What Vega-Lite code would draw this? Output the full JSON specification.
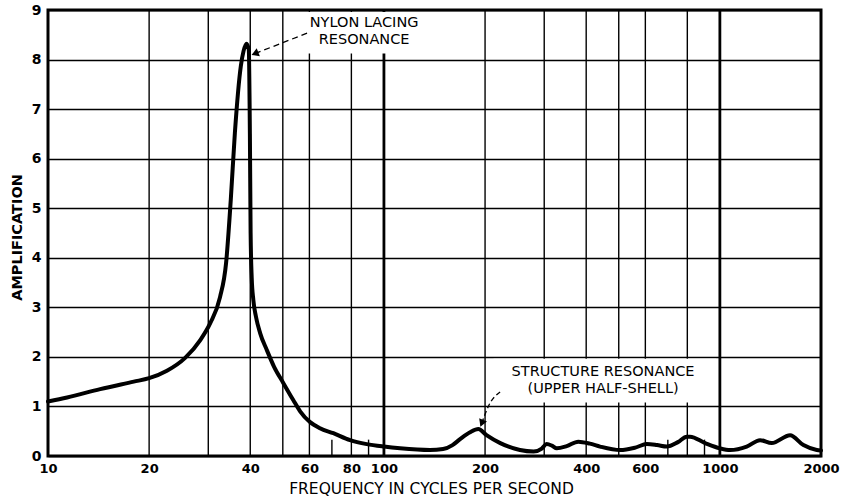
{
  "$schema": "https://vega.github.io/schema/vega-lite/v6.json",
  "width": 773,
  "height": 446,
  "autosize": {"type": "none"},
  "padding": {"left": 48, "top": 10, "right": 24, "bottom": 42},
  "background": "white",
  "config": {"view": {"stroke": "black", "strokeWidth": 3}, "font": "DejaVu Sans"},
  "datasets": {
    "curve": [
      {"f": 10, "amp": 1.10}, {"f": 11.4, "amp": 1.18}, {"f": 14.3, "amp": 1.35}, {"f": 18, "amp": 1.50},
      {"f": 20, "amp": 1.57}, {"f": 22.6, "amp": 1.72}, {"f": 25.6, "amp": 1.98}, {"f": 28.4, "amp": 2.34},
      {"f": 30.4, "amp": 2.68}, {"f": 32.5, "amp": 3.2}, {"f": 33.9, "amp": 3.9}, {"f": 35.0, "amp": 5.17},
      {"f": 36.0, "amp": 6.52}, {"f": 37.5, "amp": 7.87}, {"f": 38.2, "amp": 8.17}, {"f": 39.0, "amp": 8.32},
      {"f": 39.6, "amp": 8.2}, {"f": 39.9, "amp": 6.5}, {"f": 40.1, "amp": 4.5}, {"f": 40.4, "amp": 3.6},
      {"f": 40.85, "amp": 3.15}, {"f": 41.6, "amp": 2.81}, {"f": 42.8, "amp": 2.48}, {"f": 44.8, "amp": 2.14},
      {"f": 47.1, "amp": 1.80}, {"f": 50.2, "amp": 1.47}, {"f": 53.7, "amp": 1.13}, {"f": 56.3, "amp": 0.90},
      {"f": 64.5, "amp": 0.56}, {"f": 70.7, "amp": 0.46}, {"f": 79.3, "amp": 0.32}, {"f": 88.9, "amp": 0.24},
      {"f": 100, "amp": 0.19}, {"f": 111.7, "amp": 0.155}, {"f": 137, "amp": 0.12}, {"f": 150, "amp": 0.14},
      {"f": 160, "amp": 0.22}, {"f": 168.5, "amp": 0.34}, {"f": 180.5, "amp": 0.48}, {"f": 191, "amp": 0.545},
      {"f": 202, "amp": 0.42}, {"f": 222, "amp": 0.26}, {"f": 254, "amp": 0.12}, {"f": 279, "amp": 0.09},
      {"f": 295, "amp": 0.15}, {"f": 305, "amp": 0.24}, {"f": 316, "amp": 0.21}, {"f": 327, "amp": 0.155},
      {"f": 350, "amp": 0.2}, {"f": 379, "amp": 0.29}, {"f": 410, "amp": 0.25}, {"f": 440, "amp": 0.19},
      {"f": 505, "amp": 0.12}, {"f": 560, "amp": 0.17}, {"f": 606, "amp": 0.24}, {"f": 650, "amp": 0.22},
      {"f": 695, "amp": 0.19}, {"f": 750, "amp": 0.28}, {"f": 797, "amp": 0.39}, {"f": 815, "amp": 0.39},
      {"f": 904, "amp": 0.26}, {"f": 1000, "amp": 0.155}, {"f": 1073, "amp": 0.12}, {"f": 1202, "amp": 0.19},
      {"f": 1317, "amp": 0.32}, {"f": 1427, "amp": 0.26}, {"f": 1618, "amp": 0.42}, {"f": 1773, "amp": 0.22},
      {"f": 1943, "amp": 0.12}, {"f": 2000, "amp": 0.11}
    ],
    "thinGrid": [
      {"f": 20}, {"f": 30}, {"f": 40}, {"f": 50}, {"f": 60}, {"f": 80},
      {"f": 200}, {"f": 300}, {"f": 400}, {"f": 500}, {"f": 600}, {"f": 800}
    ],
    "thickGrid": [{"f": 100}, {"f": 1000}],
    "stubs": [{"f": 70}, {"f": 90}, {"f": 700}, {"f": 900}],
    "labels": [
      {"f": 87.3, "amp": 8.74, "text": "NYLON LACING"},
      {"f": 87.3, "amp": 8.39, "text": "RESONANCE"},
      {"f": 449, "amp": 1.70, "text": "STRUCTURE RESONANCE"},
      {"f": 449, "amp": 1.35, "text": "(UPPER HALF-SHELL)"}
    ],
    "arrow1": [{"f": 59.4, "amp": 8.54}, {"f": 41.3, "amp": 8.12}],
    "arrow2": [{"f": 221.7, "amp": 1.29}, {"f": 205.5, "amp": 1.03}, {"f": 195.5, "amp": 0.66}],
    "head1": [{"f": 41.3, "amp": 8.12}],
    "head2": [{"f": 195.5, "amp": 0.66}]
  },
  "layer": [
    {
      "data": {"name": "curve"},
      "mark": {"type": "line", "opacity": 0},
      "encoding": {
        "x": {
          "field": "f", "type": "quantitative",
          "scale": {"type": "log", "domain": [10, 2000], "nice": false},
          "axis": {
            "values": [10, 20, 40, 60, 80, 100, 200, 400, 600, 1000, 2000],
            "format": "d", "labelOverlap": false, "labelBound": false,
            "grid": false, "ticks": false, "domain": false, "labelFlush": false,
            "labelFont": "DejaVu Sans", "labelFontWeight": "bold", "labelFontSize": 13,
            "labelColor": "black", "labelPadding": 6,
            "title": "FREQUENCY IN CYCLES PER SECOND",
            "titleFont": "DejaVu Sans", "titleFontWeight": "normal", "titleFontSize": 15.5, "titleColor": "black",
            "titleX": 383, "titleY": 32, "titleAlign": "center", "titleBaseline": "middle"
          }
        },
        "y": {
          "field": "amp", "type": "quantitative",
          "scale": {"domain": [0, 9], "nice": false},
          "axis": {
            "values": [0, 1, 2, 3, 4, 5, 6, 7, 8, 9],
            "grid": true, "gridColor": "black", "gridWidth": 1.4, "gridOpacity": 1,
            "ticks": false, "domain": false,
            "labelFont": "DejaVu Sans", "labelFontWeight": "bold", "labelFontSize": 14,
            "labelColor": "black", "labelPadding": 7,
            "title": "AMPLIFICATION",
            "titleFont": "DejaVu Sans", "titleFontWeight": "bold", "titleFontSize": 14.5, "titleColor": "black",
            "titleX": -31, "titleY": 227, "titleAngle": 270, "titleAlign": "center", "titleBaseline": "middle"
          }
        }
      }
    },
    {
      "data": {"name": "thinGrid"},
      "mark": {"type": "rule", "color": "black", "strokeWidth": 1.4},
      "encoding": {
        "x": {"field": "f", "type": "quantitative"},
        "y": {"datum": 0, "type": "quantitative"},
        "y2": {"datum": 9}
      }
    },
    {
      "data": {"name": "thickGrid"},
      "mark": {"type": "rule", "color": "black", "strokeWidth": 2.8},
      "encoding": {
        "x": {"field": "f", "type": "quantitative"},
        "y": {"datum": 0, "type": "quantitative"},
        "y2": {"datum": 9}
      }
    },
    {
      "data": {"name": "stubs"},
      "mark": {"type": "rule", "color": "black", "strokeWidth": 1.4},
      "encoding": {
        "x": {"field": "f", "type": "quantitative"},
        "y": {"datum": 0, "type": "quantitative"},
        "y2": {"datum": 0.33}
      }
    },
    {
      "data": {"values": [{}]},
      "mark": {"type": "rect", "color": "white", "opacity": 1},
      "encoding": {
        "x": {"datum": 53.3, "type": "quantitative"},
        "x2": {"datum": 140},
        "y": {"datum": 8.12, "type": "quantitative"},
        "y2": {"datum": 8.96}
      }
    },
    {
      "data": {"values": [{}]},
      "mark": {"type": "rect", "color": "white", "opacity": 1},
      "encoding": {
        "x": {"datum": 212, "type": "quantitative"},
        "x2": {"datum": 975},
        "y": {"datum": 1.08, "type": "quantitative"},
        "y2": {"datum": 1.96}
      }
    },
    {
      "data": {"name": "curve"},
      "mark": {"type": "line", "color": "black", "strokeWidth": 4, "interpolate": "monotone", "strokeCap": "round"},
      "encoding": {
        "x": {"field": "f", "type": "quantitative"},
        "y": {"field": "amp", "type": "quantitative"}
      }
    },
    {
      "data": {"name": "arrow1"},
      "mark": {"type": "line", "color": "black", "strokeWidth": 1.3, "strokeDash": [6, 4]},
      "encoding": {
        "x": {"field": "f", "type": "quantitative"},
        "y": {"field": "amp", "type": "quantitative"}
      }
    },
    {
      "data": {"name": "arrow2"},
      "mark": {"type": "line", "color": "black", "strokeWidth": 1.3, "strokeDash": [5, 3], "interpolate": "monotone"},
      "encoding": {
        "x": {"field": "f", "type": "quantitative"},
        "y": {"field": "amp", "type": "quantitative"}
      }
    },
    {
      "data": {"name": "head1"},
      "mark": {"type": "point", "shape": "triangle-up", "filled": true, "color": "black", "size": 70, "angle": 248, "opacity": 1},
      "encoding": {
        "x": {"field": "f", "type": "quantitative"},
        "y": {"field": "amp", "type": "quantitative"}
      }
    },
    {
      "data": {"name": "head2"},
      "mark": {"type": "point", "shape": "triangle-up", "filled": true, "color": "black", "size": 70, "angle": 202, "opacity": 1},
      "encoding": {
        "x": {"field": "f", "type": "quantitative"},
        "y": {"field": "amp", "type": "quantitative"}
      }
    },
    {
      "data": {"name": "labels"},
      "mark": {"type": "text", "font": "DejaVu Sans", "fontSize": 14.5, "color": "black", "align": "center", "baseline": "middle"},
      "encoding": {
        "x": {"field": "f", "type": "quantitative"},
        "y": {"field": "amp", "type": "quantitative"},
        "text": {"field": "text", "type": "nominal"}
      }
    }
  ]
}
